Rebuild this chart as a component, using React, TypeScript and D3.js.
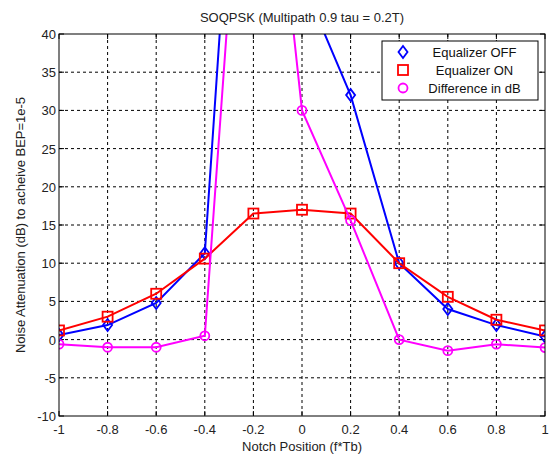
import React from "react";
import * as d3 from "d3";

const xs = [-1, -0.8, -0.6, -0.4, -0.2, 0, 0.2, 0.4, 0.6, 0.8, 1];
const eqOff = [0.6, 1.9, 4.8, 11.3, 105, 47, 32, 10, 4, 1.9, 0.4];
const eqOn = [1.2, 3, 6, 10.6, 16.5, 17, 16.5, 10, 5.6, 2.6, 1.2];
const diffDb = [-0.6, -1, -1, 0.5, 89, 30, 15.6, 0, -1.45, -0.6, -1.05];
const xTicks = [-1, -0.8, -0.6, -0.4, -0.2, 0, 0.2, 0.4, 0.6, 0.8, 1];
const yTicks = [-10, -5, 0, 5, 10, 15, 20, 25, 30, 35, 40];
const seriesNames = ["Equalizer OFF", "Equalizer ON", "Difference in dB"];
const title = "SOQPSK (Multipath 0.9 tau = 0.2T)";
const xLabel = "Notch Position (f*Tb)";
const yLabel = "Noise Attenuation (dB) to acheive BEP=1e-5";

const W = 549, H = 456;
const L = 59, R = 545, T = 34, B = 416;

export default function App() {
  const x = d3.scaleLinear().domain([-1, 1]).range([L, R]);
  const y = d3.scaleLinear().domain([-10, 40]).range([B, T]);
  const line = d3.line<number>().x((_, i) => x(xs[i])).y((d) => y(d));
  const font = "Liberation Sans, Arial, sans-serif";
  const series = [
    { data: eqOff, color: "#0000ff", marker: "diamond" },
    { data: eqOn, color: "#ff0000", marker: "square" },
    { data: diffDb, color: "#ff00ff", marker: "circle" },
  ];
  const marker = (type: string, cx: number, cy: number, color: string, key: any) => {
    if (type === "diamond")
      return <path key={key} d={`M${cx},${cy - 6}L${cx + 4.5},${cy}L${cx},${cy + 6}L${cx - 4.5},${cy}Z`} fill="none" stroke={color} strokeWidth={1.8} />;
    if (type === "square")
      return <rect key={key} x={cx - 5} y={cy - 5} width={10} height={10} fill="none" stroke={color} strokeWidth={1.8} />;
    return <circle key={key} cx={cx} cy={cy} r={4.5} fill="none" stroke={color} strokeWidth={1.8} />;
  };
  return (
    <svg width={W} height={H} style={{ position: "absolute", left: 0, top: 0, background: "#fff" }} fontFamily={font}>
      <defs>
        <clipPath id="plotclip">
          <rect x={L} y={T} width={R - L} height={B - T} />
        </clipPath>
      </defs>
      <rect x={0} y={0} width={W} height={H} fill="#fff" />
      {/* grid */}
      {xTicks.slice(1, -1).map((t) => (
        <line key={"gx" + t} x1={x(t)} x2={x(t)} y1={T} y2={B} stroke="#000" strokeWidth={1} strokeDasharray="3,3" />
      ))}
      {yTicks.slice(1, -1).map((t) => (
        <line key={"gy" + t} x1={L} x2={R} y1={y(t)} y2={y(t)} stroke="#000" strokeWidth={1} strokeDasharray="3,3" />
      ))}
      {/* ticks */}
      {xTicks.map((t) => (
        <g key={"tx" + t}>
          <line x1={x(t)} x2={x(t)} y1={B} y2={B - 5} stroke="#000" />
          <line x1={x(t)} x2={x(t)} y1={T} y2={T + 5} stroke="#000" />
          <text x={x(t)} y={B + 18} textAnchor="middle" fontSize={13} fill="#222">{t}</text>
        </g>
      ))}
      {yTicks.map((t) => (
        <g key={"ty" + t}>
          <line x1={L} x2={L + 5} y1={y(t)} y2={y(t)} stroke="#000" />
          <line x1={R} x2={R - 5} y1={y(t)} y2={y(t)} stroke="#000" />
          <text x={L - 3} y={y(t) + 5} textAnchor="end" fontSize={13} fill="#222">{t}</text>
        </g>
      ))}
      {/* data */}
      <g clipPath="url(#plotclip)">
        {series.map((s, si) => (
          <g key={"s" + si}>
            <path d={line(s.data) || ""} fill="none" stroke={s.color} strokeWidth={2} />
            {s.data.map((v, i) => marker(s.marker, x(xs[i]), y(v), s.color, i))}
          </g>
        ))}
      </g>
      <rect x={L} y={T} width={R - L} height={B - T} fill="none" stroke="#000" strokeWidth={1} />
      {/* legend */}
      <rect x={382} y={41} width={156} height={59} fill="#fff" stroke="#000" strokeWidth={1} />
      {seriesNames.map((n, i) => (
        <g key={"lg" + i}>
          {marker(series[i].marker, 403, 52 + i * 18, series[i].color, "m" + i)}
          <text x={474.5} y={57 + i * 18} textAnchor="middle" fontSize={13} fill="#111">{n}</text>
        </g>
      ))}
      <text x={(L + R) / 2} y={22} textAnchor="middle" fontSize={13} fill="#222">{title}</text>
      <text x={(L + R) / 2} y={451} textAnchor="middle" fontSize={13} fill="#222">{xLabel}</text>
      <text transform={`translate(25,${(T + B) / 2}) rotate(-90)`} textAnchor="middle" fontSize={13} fill="#222">{yLabel}</text>
    </svg>
  );
}
